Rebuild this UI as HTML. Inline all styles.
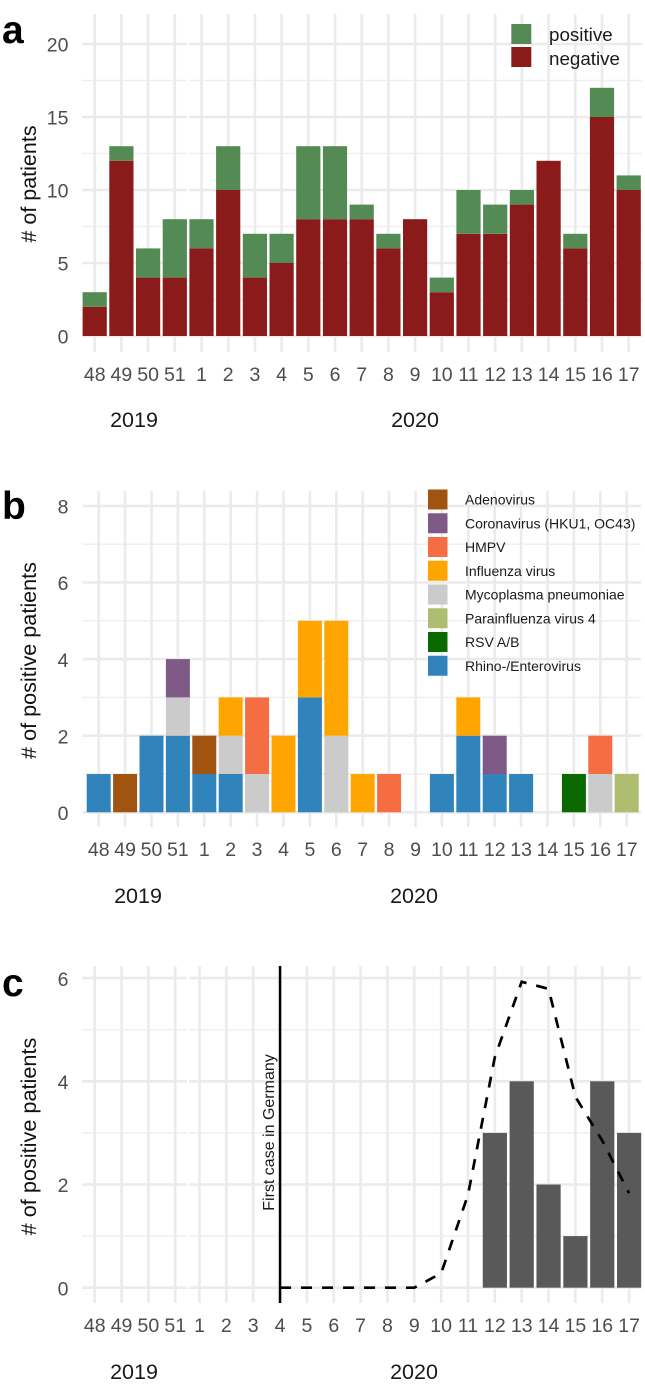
<!DOCTYPE html>
<html lang="en">
<head>
<meta charset="utf-8">
<title>Weekly patients and respiratory pathogens</title>
<style>
html,body{margin:0;padding:0;background:#fff;}
svg{display:block;font-family:"Liberation Sans",Arial,sans-serif;}
</style>
</head>
<body>
<svg id="figure" width="645" height="1386" viewBox="0 0 645 1386" xmlns="http://www.w3.org/2000/svg"></svg>
<script>
// ---- shared categories ----
const weeks = ["48","49","50","51","1","2","3","4","5","6","7","8","9","10","11","12","13","14","15","16","17"];

// ---- panel a ----
const negativeCounts = [2,12,4,4,6,10,4,5,8,8,8,6,8,3,7,7,9,12,6,15,10];
const positiveCounts = [1,1,2,4,2,3,3,2,5,5,1,1,0,1,3,2,1,0,1,2,1];
const panelATicks = [0,5,10,15,20];
const panelAMinorTicks = [2.5,7.5,12.5,17.5];

// ---- panel b ----
const virusNames = ["Adenovirus","Coronavirus (HKU1, OC43)","HMPV","Influenza virus","Mycoplasma pneumoniae","Parainfluenza virus 4","RSV A/B","Rhino-/Enterovirus"];
const adenovirus =    [0,1,0,0,1,0,0,0,0,0,0,0,0,0,0,0,0,0,0,0,0];
const coronavirus =   [0,0,0,1,0,0,0,0,0,0,0,0,0,0,0,1,0,0,0,0,0];
const hmpv =          [0,0,0,0,0,0,2,0,0,0,0,1,0,0,0,0,0,0,0,1,0];
const influenza =     [0,0,0,0,0,1,0,2,2,3,1,0,0,0,1,0,0,0,0,0,0];
const mycoplasma =    [0,0,0,1,0,1,1,0,0,2,0,0,0,0,0,0,0,0,0,1,0];
const parainfluenza = [0,0,0,0,0,0,0,0,0,0,0,0,0,0,0,0,0,0,0,0,1];
const rsv =           [0,0,0,0,0,0,0,0,0,0,0,0,0,0,0,0,0,0,1,0,0];
const rhino =         [1,0,2,2,1,1,0,0,3,0,0,0,0,1,2,1,1,0,0,0,0];
const panelBTicks = [0,2,4,6,8];
const panelBMinorTicks = [1,3,5,7];

// ---- panel c ----
const covidCounts = [0,0,0,0,0,0,0,0,0,0,0,0,0,0,0,3,4,2,1,4,3];
const curveWeeks = ["4","5","6","7","8","9","10","11","12","13","14","15","16","17"];
const curveValues = [0,0,0,0,0,0,0.28,1.8,4.47,5.93,5.79,3.7,2.85,1.83];
const panelCTicks = [0,2,4,6];
const panelCMinorTicks = [1,3,5];
const firstCaseWeek = "4";

const svg = document.getElementById('figure');
const NS = 'http://www.w3.org/2000/svg';
function add(tag, attrs, name, parent, text) {
  const el = document.createElementNS(NS, tag);
  for (const k in attrs) el.setAttribute(k, attrs[k]);
  
  
  if (text !== undefined) el.textContent = text;
  (parent || svg).appendChild(el);
  return el;
}
function makeScales(p) {
  return {
    x: function (w) {
      const i = weeks.indexOf(w);
      return p.x48 + i * p.step + (i >= 4 ? p.yearShift : 0);
    },
    y: function (v) { return p.y0 - v * p.unit; }
  };
}
function frame(p, s, ticks, minor, id) {
  const g = add('g', {}, id + '-grid');
  minor.forEach(function (v) {
    add('line', {x1:p.left, x2:p.right, y1:s.y(v), y2:s.y(v), stroke:'#efefef', 'stroke-width':1.5}, 'minor-gridline', g);
  });
  ticks.forEach(function (v) {
    add('line', {x1:p.left, x2:p.right, y1:s.y(v), y2:s.y(v), stroke:'#ebebeb', 'stroke-width':2.6}, 'major-gridline', g);
  });
  weeks.forEach(function (w) {
    add('line', {x1:s.x(w), x2:s.x(w), y1:p.top, y2:p.bottom, stroke:'#ebebeb', 'stroke-width':2.6}, 'vertical-gridline', g);
  });
  if (p.seam) add('rect', {x:p.seam, y:p.top, width:2.4, height:p.bottom - p.top, fill:'#fff'}, 'grid-seam', g);
}
function axes(p, s, ticks, id) {
  ticks.forEach(function (v) {
    add('text', {x:68.5, y:s.y(v) + 7.7, 'text-anchor':'end', 'font-size':19.5, fill:'#4d4d4d'}, id + '-y-tick-label', svg, String(v));
  });
  weeks.forEach(function (w) {
    add('text', {x:s.x(w), y:p.tickY, 'text-anchor':'middle', 'font-size':19.5, fill:'#4d4d4d'}, id + '-x-tick-label', svg, w);
  });
  add('text', {x:p.y2019, y:p.yearY, 'text-anchor':'middle', 'font-size':21.5, fill:'#1a1a1a'}, id + '-year-2019', svg, '2019');
  add('text', {x:p.y2020, y:p.yearY, 'text-anchor':'middle', 'font-size':21.5, fill:'#1a1a1a'}, id + '-year-2020', svg, '2020');
  add('text', {transform:'translate(' + p.titleX + ',' + p.titleY + ') rotate(-90)', 'text-anchor':'middle', 'font-size':p.titleSize, fill:'#111'}, id + '-y-axis-title', svg, p.title);
  add('text', {x:2, y:p.letterY, 'font-size':39, 'font-weight':'bold', fill:'#000'}, id + '-panel-letter', svg, id.slice(-1));
}
function bar(s, p, w, from, to, fill, name, parent) {
  add('rect', {x:s.x(w) - p.bw / 2, width:p.bw, y:s.y(to), height:s.y(from) - s.y(to), fill:fill}, name, parent);
}

// Panel a
const pa = {x48:94.7, step:26.7, yearShift:0, seam:186.8, y0:336, unit:14.6, left:82, right:642, top:14, bottom:352, bw:24.2, tickY:381, yearY:427, y2019:134, y2020:415, titleX:36, titleY:184, titleSize:21.5, title:'# of patients', letterY:43};
const sa = makeScales(pa);
frame(pa, sa, panelATicks, panelAMinorTicks, 'panel-a');
const barsA = add('g', {}, 'panel-a-bars');
weeks.forEach(function (w, i) {
  bar(sa, pa, w, 0, negativeCounts[i], '#8b1a1a', 'bar-negative', barsA);
  if (positiveCounts[i] > 0) bar(sa, pa, w, negativeCounts[i], negativeCounts[i] + positiveCounts[i], '#548b54', 'bar-positive', barsA);
});
axes(pa, sa, panelATicks, 'panel-a');
const legendA = add('g', {}, 'panel-a-legend');
add('rect', {x:511.3, y:24, width:20, height:20, fill:'#548b54'}, 'legend-swatch-positive', legendA);
add('rect', {x:511.3, y:47, width:20, height:20, fill:'#8b1a1a'}, 'legend-swatch-negative', legendA);
add('text', {x:549, y:41, 'font-size':18.8, fill:'#1a1a1a'}, 'legend-label-positive', legendA, 'positive');
add('text', {x:549, y:65, 'font-size':18.8, fill:'#1a1a1a'}, 'legend-label-negative', legendA, 'negative');

// Panel b
const pb = {x48:98.7, step:26.4, yearShift:0, seam:0, y0:812.3, unit:38.3, left:82.5, right:641, top:491, bottom:827, bw:24, tickY:856, yearY:903, y2019:138, y2020:414, titleX:36, titleY:660.5, titleSize:21.6, title:'# of positive patients', letterY:519};
const sb = makeScales(pb);
frame(pb, sb, panelBTicks, panelBMinorTicks, 'panel-b');
const virusSeries = [adenovirus, coronavirus, hmpv, influenza, mycoplasma, parainfluenza, rsv, rhino];
const virusColors = ['#a0540f','#7f5a86','#f46d43','#ffa500','#cbcbcb','#aebd6f','#0a6a00','#3084bb'];
const barsB = add('g', {}, 'panel-b-bars');
weeks.forEach(function (w, i) {
  let base = 0;
  for (let k = virusSeries.length - 1; k >= 0; k--) {
    const v = virusSeries[k][i];
    if (v > 0) {
      bar(sb, pb, w, base, base + v, virusColors[k], 'bar-virus', barsB);
      base += v;
    }
  }
});
axes(pb, sb, panelBTicks, 'panel-b');
const legendB = add('g', {}, 'panel-b-legend');
virusNames.forEach(function (name, i) {
  const cy = 499.5 + i * 23.75;
  add('rect', {x:428, y:cy - 10, width:19.5, height:20, fill:virusColors[i]}, 'legend-swatch', legendB);
  add('text', {x:465, y:cy + 5, 'font-size':14, fill:'#1a1a1a'}, 'legend-label', legendB, name);
});

// Panel c
const pc = {x48:94.7, step:26.85, yearShift:-2.6, seam:186.8, y0:1287.7, unit:51.6, left:82, right:641, top:966, bottom:1303, bw:24.2, tickY:1332, yearY:1379, y2019:134, y2020:414, titleX:36, titleY:1136.5, titleSize:21.7, title:'# of positive patients', letterY:996};
const sc = makeScales(pc);
frame(pc, sc, panelCTicks, panelCMinorTicks, 'panel-c');
const barsC = add('g', {}, 'panel-c-bars');
weeks.forEach(function (w, i) {
  if (covidCounts[i] > 0) bar(sc, pc, w, 0, covidCounts[i], '#595959', 'bar-covid', barsC);
});
add('line', {x1:sc.x(firstCaseWeek), x2:sc.x(firstCaseWeek), y1:pc.top, y2:pc.bottom, stroke:'#000', 'stroke-width':2.5}, 'first-case-line');
const curvePoints = curveWeeks.map(function (w, i) { return sc.x(w) + ',' + sc.y(curveValues[i]); }).join(' ');
add('polyline', {points:curvePoints, fill:'none', stroke:'#000', 'stroke-width':2.7, 'stroke-dasharray':'11 10'}, 'case-curve-dashed');
add('text', {transform:'translate(' + (sc.x(firstCaseWeek) - 6) + ',1132.5) rotate(-90)', 'text-anchor':'middle', 'font-size':16, fill:'#1a1a1a'}, 'first-case-label', svg, 'First case in Germany');
axes(pc, sc, panelCTicks, 'panel-c');
</script>
</body>
</html>
